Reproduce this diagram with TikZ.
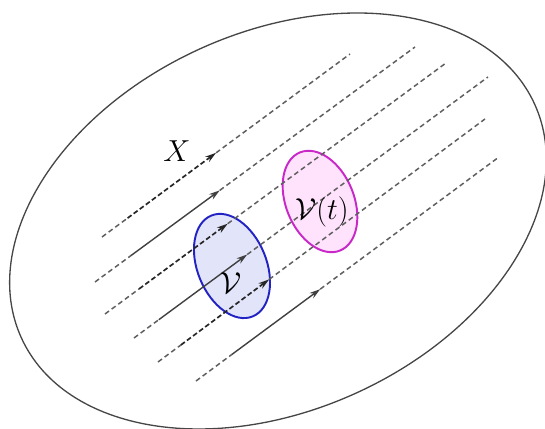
\documentclass[tikz,border=0pt]{standalone}
\usepackage{amsmath, amssymb}
\usepackage{xcolor}
\usepackage{tikz}
\usetikzlibrary{arrows.meta, calc}
\definecolor{flowgray}{RGB}{95,95,95}
\definecolor{domgray}{RGB}{70,70,70}
\definecolor{volblue}{RGB}{35,35,195}
\definecolor{volbluefill}{RGB}{226,229,250}
\definecolor{volpink}{RGB}{200,40,200}
\definecolor{volpinkfill}{RGB}{255,226,252}

\begin{document}
\begin{tikzpicture}[>=Stealth,
  streamline/.style={flowgray, line width=0.85pt, dash pattern=on 2.8pt off 1.9pt},
  flowsolid/.style={black!75, line width=0.8pt, -{Stealth[length=2.2mm, width=1.3mm]}},
  flowdash/.style={black!85, line width=0.95pt, dash pattern=on 2.8pt off 1.5pt, -{Stealth[length=2.2mm, width=1.3mm]}},
  label/.style={font=\LARGE, inner sep=0pt}]
\useasboundingbox (-5.56,-4.16) rectangle (5.34,4.42);
% domain
\draw[domgray, line width=0.75pt, rotate=24.5] (0,0) ellipse [x radius=5.64, y radius=3.78];
% material volumes
\draw[volblue, fill=volbluefill, line width=1.1pt, rotate around={22.3:(-0.92,-0.90)}] (-0.92,-0.90) ellipse [x radius=0.69, y radius=1.09];
\draw[volpink, fill=volpinkfill, line width=1.1pt, rotate around={22.3:(0.84,0.39)}] (0.84,0.39) ellipse [x radius=0.68, y radius=1.06];
% streamlines
\coordinate (s1) at (-3.52,-0.32); \coordinate (e1) at (1.44,3.34);
\coordinate (s2) at (-3.66,-1.22); \coordinate (e2) at (2.74,3.48);
\coordinate (s3) at (-3.46,-1.86); \coordinate (e3) at (3.36,3.16);
\coordinate (s4) at (-2.88,-2.34); \coordinate (e4) at (4.20,2.88);
\coordinate (s5) at (-2.40,-2.82); \coordinate (e5) at (4.14,2.04);
\coordinate (s6) at (-1.64,-3.20); \coordinate (e6) at (4.42,1.28);
\coordinate (a1) at ($(s1)!0.46!(e1)$);
\coordinate (a2) at ($(s2)!0.39!(e2)$);
\coordinate (a3) at ($(s3)!0.36!(e3)$);
\coordinate (a4) at ($(s4)!0.32!(e4)$);
\coordinate (a5) at ($(s5)!0.34!(e5)$);
\coordinate (a6) at ($(s6)!0.41!(e6)$);
% velocity vectors, all of one length
\coordinate (d1) at ($(a1)!2.2cm!(s1)$);
\coordinate (d2) at ($(a2)!2.2cm!(s2)$);
\coordinate (d3) at ($(a3)!2.2cm!(s3)$);
\coordinate (d4) at ($(a4)!2.2cm!(s4)$);
\coordinate (d5) at ($(a5)!2.2cm!(s5)$);
\coordinate (d6) at ($(a6)!2.2cm!(s6)$);
\draw[streamline] (s1) -- (d1) (a1) -- (e1);
\draw[streamline] (s2) -- (d2) (a2) -- (e2);
\draw[streamline] (s3) -- (d3) (a3) -- (e3);
\draw[streamline] (s4) -- (d4) (a4) -- (e4);
\draw[streamline] (s5) -- (d5) (a5) -- (e5);
\draw[streamline] (s6) -- (d6) (a6) -- (e6);
\draw[flowdash]  (d1) -- (a1);
\draw[flowsolid] (d2) -- (a2);
\draw[flowdash]  (d3) -- (a3);
\draw[flowsolid] (d4) -- (a4);
\draw[flowdash]  (d5) -- (a5);
\draw[flowsolid] (d6) -- (a6);
% labels
\node[label] (lblX)  at (-2.02,1.40) {$X$};
\node[label] (lblV)  at (-0.94,-1.24) {$\mathcal{V}$};
\node[label] (lblVt) at (0.88,0.18) {$\mathcal{V}(t)$};
\end{tikzpicture}
\end{document}
